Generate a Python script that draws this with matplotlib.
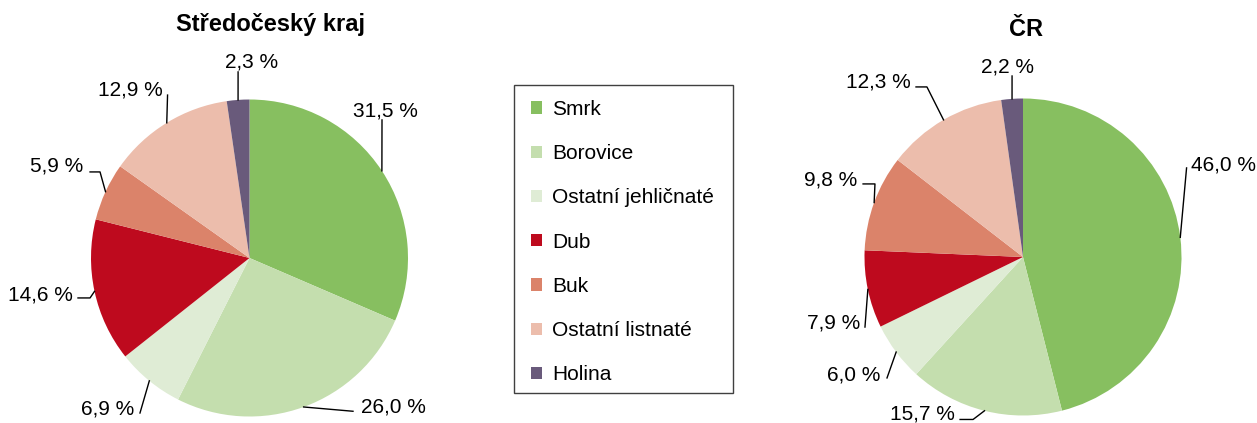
import numpy as np
import matplotlib
matplotlib.use('Agg')
import matplotlib.pyplot as plt
from matplotlib.patches import Rectangle

plt.rcParams['font.family'] = ['Liberation Sans', 'DejaVu Sans']

# data
categories = ['Smrk', 'Borovice', 'Ostatní jehličnaté', 'Dub', 'Buk',
              'Ostatní listnaté', 'Holina']
colors = ['#87bf60', '#c4deae', '#dfecd5', '#be0a1e', '#db836a',
          '#ecbdac', '#695a7b']
stredocesky = [31.5, 26.0, 6.9, 14.6, 5.9, 12.9, 2.3]
cr = [46.0, 15.7, 6.0, 7.9, 9.8, 12.3, 2.2]

# label layout (radius units): text centre, leader line points after the wedge edge
layout_left = [
    ((0.855, 0.940), [(0.836, 0.871)]),
    ((0.911, -0.927), [(0.653, -0.967)]),
    ((-0.896, -0.940), [(-0.691, -0.978)]),
    ((-1.319, -0.221), [(-1.006, -0.252), (-1.082, -0.252)]),
    ((-1.218, 0.593), [(-0.943, 0.543), (-1.006, 0.543)]),
    ((-0.751, 1.073), [(-0.517, 1.028)]),
    ((0.013, 1.249), [(-0.072, 1.174)]),
]
layout_right = [
    ((1.262, 0.593), [(1.032, 0.562)]),
    ((-0.637, -0.980), [(-0.315, -1.025), (-0.397, -1.025)]),
    ((-1.066, -0.731), [(-0.858, -0.763)]),
    ((-1.196, -0.404), [(-0.997, -0.442)]),
    ((-1.211, 0.498), [(-0.934, 0.461), (-1.009, 0.461)]),
    ((-0.915, 1.117), [(-0.606, 1.073), (-0.675, 1.073)]),
    ((-0.098, 1.211), [(-0.069, 1.142)]),
]

W, H = 1257, 423
R = 158.5
K = 1.6
FS = 15

fig = plt.figure(figsize=(W / 100, H / 100), dpi=100)


def draw_pie(cx, cy, values, layout):
    ax = fig.add_axes([(cx - K * R) / W, (H - cy - K * R) / H,
                       2 * K * R / W, 2 * K * R / H])
    wedges, _ = ax.pie(values, colors=colors, startangle=90, counterclock=False,
                       radius=1, wedgeprops=dict(linewidth=0))
    ax.set_xlim(-K, K)
    ax.set_ylim(-K, K)
    ax.set_aspect('equal')
    ax.axis('off')
    for w, v, (tpos, pts) in zip(wedges, values, layout):
        ang = np.deg2rad((w.theta1 + w.theta2) / 2)
        ex, ey = np.cos(ang), np.sin(ang)
        xs = [ex] + [p[0] for p in pts]
        ys = [ey] + [p[1] for p in pts]
        ax.plot(xs, ys, color='black', lw=1.0, clip_on=False)
        txt = f'{v:.1f} %'.replace('.', ',')
        ax.text(tpos[0], tpos[1] - 0.047, txt, ha='center', va='baseline',
                fontsize=FS, color='black', clip_on=False)
    return wedges


wedges = draw_pie(249.5, 258, stredocesky, layout_left)
draw_pie(1023, 257, cr, layout_right)

fig.text(271 / W, 1 - 31.5 / H, 'Středočeský kraj', ha='center', va='baseline',
         fontsize=17, fontweight='bold')
fig.text(1026.5 / W, 1 - 36 / H, 'ČR', ha='center', va='baseline',
         fontsize=17, fontweight='bold')

# legend frame + entries
fig.patches.append(Rectangle((514 / W, 1 - 393 / H), (733 - 514) / W, (393 - 85) / H,
                             transform=fig.transFigure, fill=False,
                             edgecolor='#404040', lw=1.0))
fig.legend(wedges, categories, loc='upper left', bbox_to_anchor=(531 / W, 1 - 100 / H),
           frameon=False, fontsize=FS, borderpad=0, borderaxespad=0,
           handlelength=0.53, handleheight=0.53, handletextpad=0.5,
           labelspacing=1.21)

fig.savefig('out.png', dpi=100)
